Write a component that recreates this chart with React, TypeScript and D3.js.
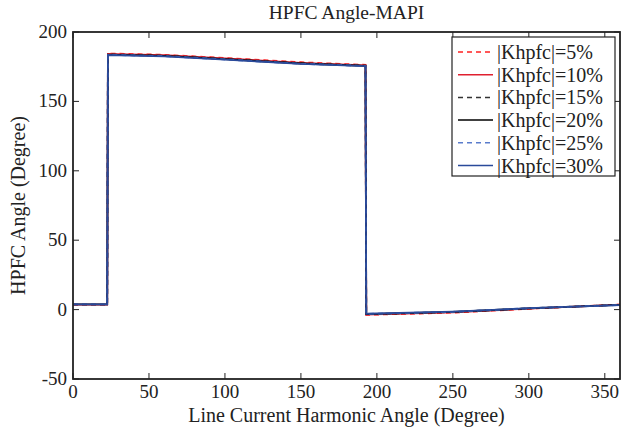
import * as d3 from "d3";
import React, { useRef, useEffect } from "react";

const width = 631;
const height = 430;
const margin = { top: 32, right: 11, bottom: 51, left: 73 };

// breakpoints of the curves (harmonic angle, degree)
const angles = [0, 22.5, 23, 60, 100, 150, 192.5, 193, 250, 300, 360];

const k5 = [3.5, 3.5, 184.5, 183.6, 181.2, 178.2, 176.3, -3.8, -2.2, 0.6, 3.6];
const k10 = [3.6, 3.6, 184.2, 183.3, 180.9, 177.8, 176.0, -3.5, -2.0, 0.7, 3.6];
const k15 = [3.7, 3.7, 183.9, 183.0, 180.6, 177.5, 175.8, -3.3, -1.8, 0.9, 3.5];
const k20 = [3.7, 3.7, 183.7, 182.8, 180.4, 177.3, 175.6, -3.2, -1.7, 0.9, 3.4];
const k25 = [3.8, 3.8, 183.5, 182.6, 180.2, 177.1, 175.5, -3.1, -1.6, 1.0, 3.3];
const k30 = [3.8, 3.8, 183.4, 182.5, 180.1, 177.0, 175.4, -3.0, -1.5, 1.0, 3.2];

const labels = ["|Khpfc|=5%", "|Khpfc|=10%", "|Khpfc|=15%", "|Khpfc|=20%", "|Khpfc|=25%", "|Khpfc|=30%"];
const colors = ["#ff2020", "#e02030", "#333333", "#000000", "#5a7ccc", "#2a4a9a"];
const dashes = ["5,4", null, "5,4", null, "5,4", null];

const xTicks = [0, 50, 100, 150, 200, 250, 300, 350];
const yTicks = [-50, 0, 50, 100, 150, 200];

const font = "'Liberation Serif', 'DejaVu Serif', serif";
const tickFs = "19px";
const fs = "20px";

const App = () => {
  const svgRef = useRef<SVGSVGElement>(null);
  const series = [k5, k10, k15, k20, k25, k30];

  const xScale = d3.scaleLinear().domain([0, 360]).range([margin.left, width - margin.right]);
  const yScale = d3.scaleLinear().domain([-50, 200]).range([height - margin.bottom, margin.top]);

  useEffect(() => {
    const svg = d3.select(svgRef.current);
    svg.selectAll("*").remove();
    const x0 = margin.left, x1 = width - margin.right;
    const y0 = height - margin.bottom, y1 = margin.top;

    const line = d3
      .line<number>()
      .x((d, i) => xScale(angles[i]))
      .y((d) => yScale(d));

    series.forEach((s, i) => {
      svg
        .append("path")
        .attr("d", line(s))
        .attr("fill", "none")
        .attr("stroke", colors[i])
        .attr("stroke-width", 1.8)
        .attr("stroke-dasharray", dashes[i]);
    });

    // box
    svg
      .append("rect")
      .attr("x", x0)
      .attr("y", y1)
      .attr("width", x1 - x0)
      .attr("height", y0 - y1)
      .attr("fill", "none")
      .attr("stroke", "#222")
      .attr("stroke-width", 1.8);

    const tl = 6;
    xTicks.forEach((t) => {
      const x = xScale(t);
      svg.append("line").attr("x1", x).attr("x2", x).attr("y1", y0).attr("y2", y0 - tl).attr("stroke", "#222");
      svg.append("line").attr("x1", x).attr("x2", x).attr("y1", y1).attr("y2", y1 + tl).attr("stroke", "#222");
      svg
        .append("text")
        .attr("x", x)
        .attr("y", y0 + 19)
        .attr("text-anchor", "middle")
        .style("font-family", font)
        .style("font-size", tickFs)
        .attr("fill", "#222")
        .text(t);
    });
    yTicks.forEach((t) => {
      const y = yScale(t);
      svg.append("line").attr("x1", x0).attr("x2", x0 + tl).attr("y1", y).attr("y2", y).attr("stroke", "#222");
      svg.append("line").attr("x1", x1).attr("x2", x1 - tl).attr("y1", y).attr("y2", y).attr("stroke", "#222");
      svg
        .append("text")
        .attr("x", x0 - 6)
        .attr("y", y + 6)
        .attr("text-anchor", "end")
        .style("font-family", font)
        .style("font-size", tickFs)
        .attr("fill", "#222")
        .text(t);
    });

    // legend
    const lx = 452, ly = 37, lw = 163, lh = 139;
    svg
      .append("rect")
      .attr("x", lx)
      .attr("y", ly)
      .attr("width", lw)
      .attr("height", lh)
      .attr("fill", "#fff")
      .attr("stroke", "#222")
      .attr("stroke-width", 1.2);
    labels.forEach((lab, i) => {
      const y = ly + 15 + i * 22.7;
      svg
        .append("line")
        .attr("x1", lx + 6)
        .attr("x2", lx + 41)
        .attr("y1", y)
        .attr("y2", y)
        .attr("stroke", colors[i])
        .attr("stroke-width", 1.5)
        .attr("stroke-dasharray", dashes[i]);
      svg
        .append("text")
        .attr("x", lx + 45)
        .attr("y", y + 7)
        .style("font-family", font)
        .style("font-size", fs)
        .attr("fill", "#222")
        .text(lab);
    });

    svg
      .append("text")
      .attr("x", (x0 + x1) / 2)
      .attr("y", 19)
      .attr("text-anchor", "middle")
      .style("font-family", font)
      .style("font-size", "19.5px")
      .attr("fill", "#222")
      .text("HPFC Angle-MAPI");
    svg
      .append("text")
      .attr("x", (x0 + x1) / 2)
      .attr("y", 422)
      .attr("text-anchor", "middle")
      .style("font-family", font)
      .style("font-size", fs)
      .attr("fill", "#222")
      .text("Line Current Harmonic Angle (Degree)");
    svg
      .append("text")
      .attr("transform", `translate(25, ${(y0 + y1) / 2}) rotate(-90)`)
      .attr("text-anchor", "middle")
      .style("font-family", font)
      .style("font-size", fs)
      .attr("fill", "#222")
      .text("HPFC Angle (Degree)");
  }, []);

  return (
    <svg
      ref={svgRef}
      width={width}
      height={height}
      style={{ position: "absolute", left: 0, top: 0, background: "#fff" }}
    />
  );
};

export default App;
